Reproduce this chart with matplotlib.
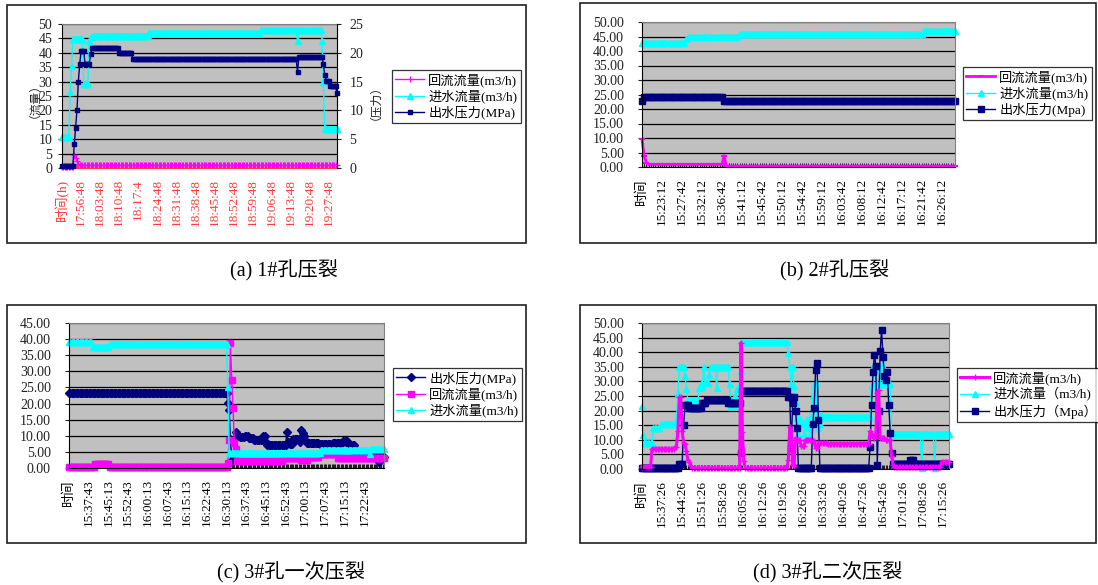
import numpy as np
import matplotlib
matplotlib.use('Agg')
import matplotlib.pyplot as plt
from matplotlib.patches import Rectangle
from matplotlib.ticker import FormatStrFormatter

plt.rcParams['font.family'] = ['Liberation Serif', 'Noto Sans CJK SC']
plt.rcParams['axes.unicode_minus'] = False

W, H = 1098, 585

MAGENTA = '#FF00FF'
CYAN = '#00FFFF'
NAVY = '#000080'
PLOT_BG = '#C0C0C0'
RED = '#FF3A3A'


def expand(runs):
    # (value, repeat) pairs -> flat list of readings
    out = []
    for value, count in runs:
        out += [value] * count
    return out


# ---- (a) 1#孔压裂 ----
a_labels = ['时间(h)', '17:56:48', '18:03:48', '18:10:48', '18:17:4', '18:24:48',
            '18:31:48', '18:38:48', '18:45:48', '18:52:48', '18:59:48',
            '19:06:48', '19:13:48', '19:20:48', '19:27:48']
a_backflow = expand([(0.3, 9), (4.5, 1), (3.5, 1), (2.5, 1), (1.5, 1), (0.9, 190)])
a_inflow = expand([(10.9, 6), (26.5, 1), (35.4, 1), (44.7, 8), (29.0, 4), (44.0, 1),
                   (45.5, 2), (46.0, 41), (47.0, 82), (48.0, 27), (44.0, 1), (48.0, 17),
                   (44.0, 1), (30.0, 1), (14.0, 1), (13.5, 9)])
a_pressure = expand([(0.4, 9), (4.1, 1), (7.0, 1), (10.0, 1), (15.0, 1), (18.0, 1),
                     (20.3, 3), (18.0, 4), (19.8, 1), (20.8, 20), (20.0, 10), (18.9, 121),
                     (16.7, 1), (19.3, 18), (18.0, 1), (16.2, 1), (15.1, 3), (14.2, 5),
                     (13.0, 1)])

# ---- (b) 2#孔压裂 ----
b_labels = ['时间', '15:23:12', '15:27:42', '15:32:12', '15:36:42', '15:41:12',
            '15:45:42', '15:50:12', '15:54:42', '15:59:12', '16:03:42', '16:08:12',
            '16:12:42', '16:17:12', '16:21:42', '16:26:12']
b_backflow = expand([(9.5, 1), (3.8, 1), (1.5, 1), (0.9, 34), (3.9, 1), (0.3, 104)])
b_inflow = expand([(42.8, 20), (44.0, 1), (44.8, 23), (46.0, 83), (47.0, 15)])
b_pressure = expand([(22.6, 1), (24.0, 36), (22.7, 105)])

# ---- (c) 3#孔一次压裂 ----
c_labels = ['时间', '15:37:43', '15:45:13', '15:52:43', '16:00:13', '16:07:43',
            '16:15:13', '16:22:43', '16:30:13', '16:37:43', '16:45:13', '16:52:43',
            '17:00:13', '17:07:43', '17:15:13', '17:22:43']
c_pressure = expand([(23.4, 121), (20.3, 1), (18.0, 1), (9.0, 1), (2.6, 1), (4.0, 1),
                     (3.5, 1), (11.3, 1), (10.6, 1), (9.8, 1), (9.5, 4), (10.0, 3),
                     (9.3, 4), (8.8, 7), (10.0, 2), (8.0, 1), (7.0, 15), (11.3, 1),
                     (8.0, 1), (7.5, 3), (9.0, 5), (8.0, 1), (11.8, 1), (10.8, 1),
                     (9.8, 1), (8.8, 1), (7.8, 10), (7.5, 10), (7.8, 8), (8.3, 4),
                     (7.0, 5), (4.1, 18), (2.0, 1), (3.5, 4)])
c_backflow = expand([(0.3, 20), (1.3, 11), (0.3, 90), (1.5, 1), (8.8, 1), (38.7, 1),
                     (27.2, 1), (18.7, 1), (7.8, 1), (5.9, 1), (2.3, 35), (3.2, 14),
                     (2.5, 5), (3.4, 9), (4.4, 14), (3.0, 36)])
c_inflow = expand([(39.0, 18), (37.4, 13), (38.5, 90), (25.0, 1), (4.8, 70),
                   (5.7, 37), (4.3, 1), (5.8, 11)])

# ---- (d) 3#孔二次压裂 ----
d_labels = ['时间', '15:37:26', '15:44:26', '15:51:26', '15:58:26', '16:05:26',
            '16:12:26', '16:19:26', '16:26:26', '16:33:26', '16:40:26', '16:47:26',
            '16:54:26', '17:01:26', '17:08:26', '17:15:26']
d_backflow = expand([(0.8, 7), (6.9, 16), (7.5, 2), (13.0, 1), (24.5, 2), (13.0, 1),
                     (9.0, 1), (8.5, 1), (6.0, 1), (3.0, 1), (2.5, 1), (1.0, 1),
                     (0.3, 34), (43.3, 1), (12.7, 1), (2.9, 1), (0.3, 30), (3.0, 1),
                     (14.4, 1), (13.0, 1), (1.7, 1), (0.9, 1), (10.6, 1), (10.0, 3),
                     (7.8, 3), (10.0, 4), (9.5, 3), (7.2, 2), (8.9, 7), (8.7, 29),
                     (12.9, 1), (12.0, 1), (11.0, 1), (10.6, 1), (12.0, 1), (26.0, 1),
                     (27.0, 1), (10.6, 4), (9.8, 4), (4.3, 1), (1.5, 1), (0.6, 33),
                     (2.4, 6)])
d_inflow = expand([(21.5, 1), (11.8, 1), (8.9, 6), (14.0, 5), (15.4, 11), (16.5, 1),
                   (26.0, 1), (34.8, 4), (32.0, 1), (27.5, 1), (23.5, 8), (27.7, 1),
                   (29.0, 1), (28.0, 1), (34.8, 1), (29.5, 3), (32.3, 1), (34.8, 4),
                   (27.7, 1), (34.8, 8), (29.0, 1), (21.5, 3), (24.9, 1), (27.5, 1),
                   (28.0, 1), (27.5, 1), (33.4, 1), (43.5, 32), (39.7, 1), (35.0, 1),
                   (28.9, 1), (35.0, 1), (28.5, 1), (23.0, 1), (17.5, 1), (11.8, 1),
                   (17.0, 1), (15.8, 2), (12.0, 1), (15.0, 1), (17.0, 1), (14.0, 1),
                   (12.0, 1), (18.0, 1), (24.9, 1), (28.9, 1), (29.5, 1), (18.0, 1),
                   (14.0, 1), (15.5, 1), (18.6, 1), (17.7, 34), (28.5, 1), (29.0, 1),
                   (35.5, 1), (34.0, 1), (29.0, 3), (35.7, 1), (29.0, 6), (12.0, 21),
                   (0.3, 1), (12.0, 8), (0.5, 1), (12.0, 10)])
d_pressure = expand([(0.5, 26), (1.7, 3), (15.0, 1), (21.8, 3), (21.0, 9), (22.6, 3),
                     (23.7, 15), (22.6, 9), (5.5, 1), (26.6, 32), (24.5, 2), (7.2, 1),
                     (22.6, 1), (24.5, 1), (20.0, 1), (14.0, 1), (0.5, 10), (15.3, 1),
                     (21.0, 1), (34.0, 1), (36.3, 1), (16.9, 1), (0.5, 35), (7.5, 1),
                     (22.0, 1), (33.2, 1), (39.2, 1), (35.4, 1), (1.5, 1), (20.0, 1),
                     (40.5, 1), (47.5, 1), (38.5, 1), (32.0, 1), (30.5, 1), (33.2, 1),
                     (22.0, 1), (12.3, 1), (5.5, 1), (1.8, 12), (3.1, 3), (1.8, 25)])


def frame(l, t, r, b):
    # pixel box -> figure fraction rect
    return [l / W, 1 - b / H, (r - l) / W, (b - t) / H]


def box(fig, l, t, r, b):
    fig.add_artist(Rectangle((l / W, 1 - b / H), (r - l) / W, (b - t) / H,
                             transform=fig.transFigure, fill=False,
                             ec='#202020', lw=1.2))


def style(ax, n, labels, every, ymax, ystep, fmt, ypad, xcolor='black'):
    ax.set_facecolor(PLOT_BG)
    ax.set_xlim(0, n - 1)
    ax.set_ylim(0, ymax)
    ax.set_yticks(np.arange(0, ymax + 0.01, ystep))
    ax.yaxis.set_major_formatter(FormatStrFormatter(fmt))
    ax.set_xticks(np.arange(len(labels)) * every)
    ax.set_xticklabels(labels, rotation=90, color=xcolor)
    ax.set_xticks(np.arange(n), minor=True)
    ax.tick_params(axis='x', which='both', direction='in', length=3, width=0.6,
                   color=xcolor, pad=8, labelsize=9.5)
    ax.tick_params(axis='y', direction='out', length=3, width=0.8, pad=ypad,
                   labelsize=10, colors='#222222')
    ax.yaxis.grid(True, color='black', lw=0.9)
    ax.set_axisbelow(True)
    for side in ('top', 'right'):
        ax.spines[side].set_color('#808080')
    ax.spines['left'].set_color('black')
    ax.spines['bottom'].set_color(xcolor)


def legend(fig, handles, labels, x, y):
    leg = fig.legend(handles, labels, loc='upper left',
                     bbox_to_anchor=(x / W, 1 - y / H), bbox_transform=fig.transFigure,
                     fontsize=9.5, frameon=True, fancybox=False, borderpad=0.25,
                     labelspacing=0.2, handlelength=2.2, handletextpad=0.3,
                     borderaxespad=0)
    leg.get_frame().set_edgecolor('black')
    leg.get_frame().set_linewidth(0.9)
    return leg


fig = plt.figure(figsize=(W / 100, H / 100), dpi=100)
fig.patch.set_facecolor('white')

# panel (a): flow on the left axis, pressure on the right axis
box(fig, 7, 5, 526, 243)
ax = fig.add_axes(frame(62, 24, 337, 168))
n = len(a_pressure)
style(ax, n, a_labels, 14, 50, 5, '%d', 4, xcolor=RED)
ax.tick_params(axis='x', labelcolor=RED)
h1, = ax.plot(np.arange(len(a_backflow)), a_backflow, color=MAGENTA, lw=1,
              marker='+', ms=4, mew=0.8, clip_on=False)
h2, = ax.plot(np.arange(len(a_inflow)), a_inflow, color=CYAN, lw=1,
              marker='^', ms=4.5, mec=CYAN, clip_on=False)
ax2 = ax.twinx()
ax2.set_ylim(0, 25)
ax2.set_yticks(np.arange(0, 26, 5))
ax2.tick_params(axis='y', direction='out', length=3, width=0.8, pad=6,
                labelsize=10, colors='#222222')
ax2.spines['right'].set_color('black')
for side in ('top', 'left', 'bottom'):
    ax2.spines[side].set_visible(False)
h3, = ax2.plot(np.arange(len(a_pressure)), a_pressure, color=NAVY, lw=1,
               marker='s', ms=3.5, clip_on=False)
fig.text(29 / W, 1 - 95 / H, '（流量）', rotation=90, ha='center', va='center',
         fontsize=8.5, color='#222222')
fig.text(369 / W, 1 - 96 / H, '（压力）', rotation=90, ha='center', va='center',
         fontsize=8.5, color='#222222')
legend(fig, [h1, h2, h3], ['回流流量(m3/h)', '进水流量(m3/h)', '出水压力(MPa)'], 392, 70)

# panel (b)
box(fig, 580, 3, 1096, 243)
ax = fig.add_axes(frame(642, 22, 955, 167))
n = len(b_inflow)
style(ax, n, b_labels, 9, 50, 5, '%.2f', 10)
h1, = ax.plot(np.arange(len(b_backflow)), b_backflow, color=MAGENTA, lw=2,
              marker='_', ms=5, mew=1.5, clip_on=False)
h2, = ax.plot(np.arange(len(b_inflow)), b_inflow, color=CYAN, lw=1,
              marker='^', ms=4, clip_on=False)
h3, = ax.plot(np.arange(len(b_pressure)), b_pressure, color=NAVY, lw=1,
              marker='s', ms=4, clip_on=False)
legend(fig, [h1, h2, h3], ['回流流量(m3/h)', '进水流量(m3/h)', '出水压力(Mpa)'], 963, 67)

# panel (c)
box(fig, 7, 305, 526, 543)
ax = fig.add_axes(frame(69, 323, 384, 468))
n = len(c_inflow)
style(ax, n, c_labels, 15, 45, 5, '%.2f', 10)
h1, = ax.plot(np.arange(len(c_pressure)), c_pressure, color=NAVY, lw=1,
              marker='D', ms=4, clip_on=False)
h2, = ax.plot(np.arange(len(c_backflow)), c_backflow, color=MAGENTA, lw=1,
              marker='s', ms=4, clip_on=False)
h3, = ax.plot(np.arange(len(c_inflow)), c_inflow, color=CYAN, lw=1,
              marker='^', ms=4.5, clip_on=False)
legend(fig, [h1, h2, h3], ['出水压力(MPa)', '回流流量(m3/h)', '进水流量(m3/h)'], 393, 368)

# panel (d)
box(fig, 580, 305, 1096, 543)
ax = fig.add_axes(frame(642, 323, 949, 469))
n = len(d_inflow)
style(ax, n, d_labels, 14, 50, 5, '%.2f', 10)
h2, = ax.plot(np.arange(len(d_inflow)), d_inflow, color=CYAN, lw=1,
              marker='^', ms=4.5, clip_on=False)
h3, = ax.plot(np.arange(len(d_pressure)), d_pressure, color=NAVY, lw=1,
              marker='s', ms=4, clip_on=False)
h1, = ax.plot(np.arange(len(d_backflow)), d_backflow, color=MAGENTA, lw=2.2,
              marker='+', ms=4, mew=1, clip_on=False)
legend(fig, [h1, h2, h3], ['回流流量(m3/h)', '进水流量（m3/h)', '出水压力（Mpa）'], 957, 368)

# captions
fig.text(284 / W, 1 - 271 / H, '(a) 1#孔压裂', ha='center', va='center', fontsize=14.5)
fig.text(835 / W, 1 - 271 / H, '(b) 2#孔压裂', ha='center', va='center', fontsize=14.5)
fig.text(291 / W, 1 - 573 / H, '(c) 3#孔一次压裂', ha='center', va='center', fontsize=14.5)
fig.text(828 / W, 1 - 573 / H, '(d) 3#孔二次压裂', ha='center', va='center', fontsize=14.5)

fig.savefig('out.png', dpi=100)
